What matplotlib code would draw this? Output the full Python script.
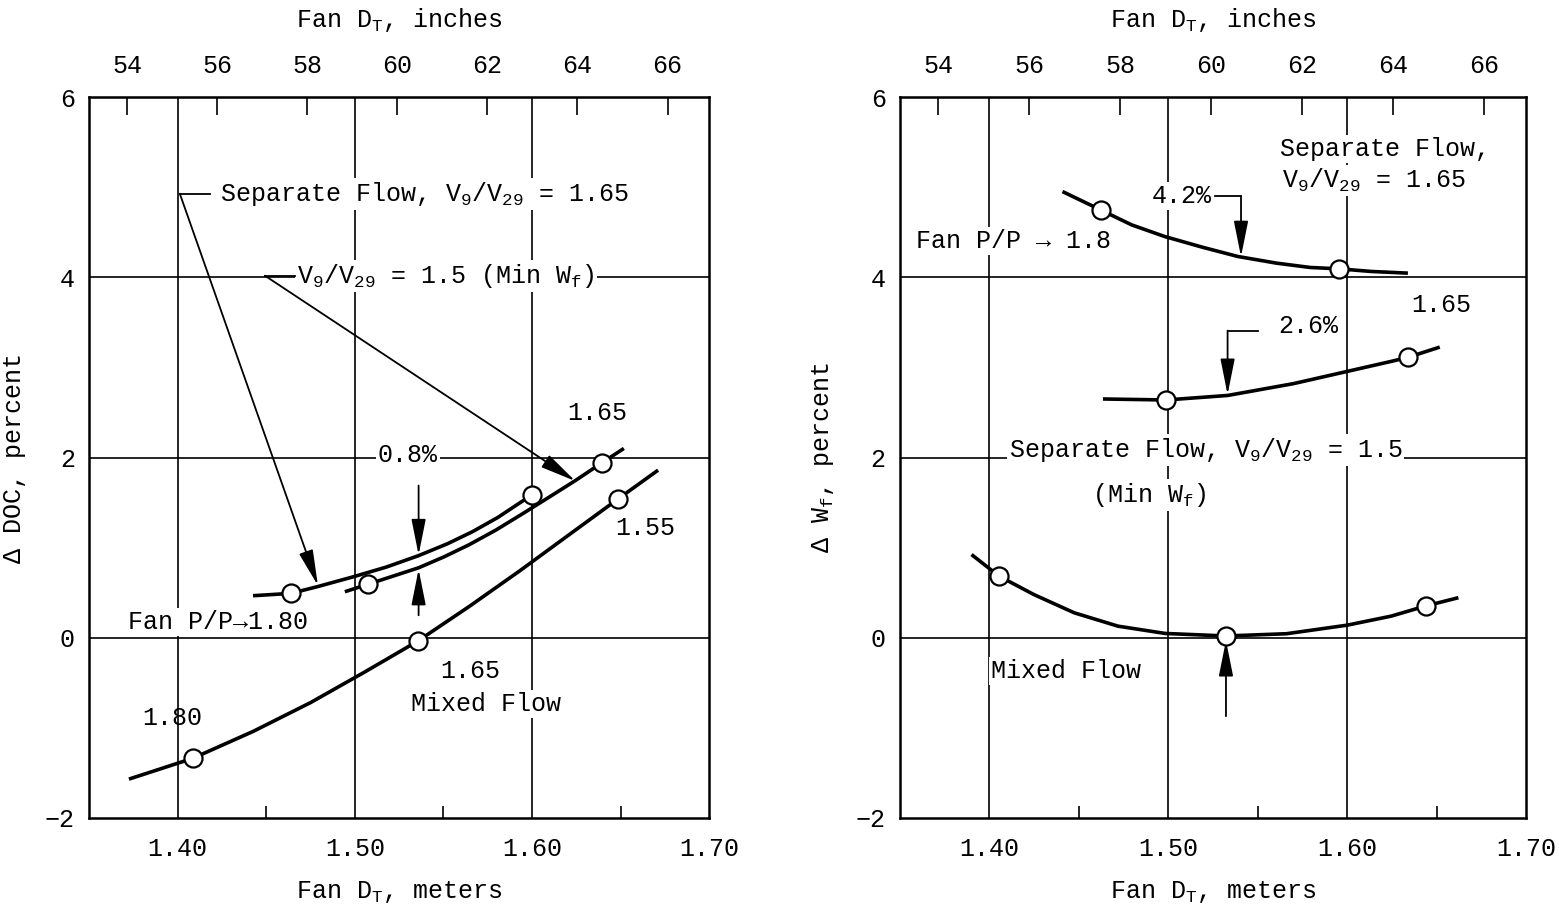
import numpy as np
import matplotlib
matplotlib.use('Agg')
import matplotlib.pyplot as plt

plt.rcParams['font.family'] = ['Liberation Mono', 'DejaVu Sans Mono', 'DejaVu Sans']
plt.rcParams['mathtext.fontset'] = 'custom'
plt.rcParams['mathtext.rm'] = 'Liberation Mono'
plt.rcParams['mathtext.it'] = 'Liberation Mono'
plt.rcParams['font.size'] = 18

# ---- left panel: delta DOC, percent ----
doc_sep165_x = [1.4426, 1.4640, 1.4792, 1.4995, 1.5178, 1.5360, 1.5523, 1.5665, 1.5807, 1.6000]
doc_sep165_y = [0.467, 0.493, 0.569, 0.679, 0.785, 0.912, 1.044, 1.179, 1.336, 1.588]
doc_sep165_pts_x = [1.4640, 1.6000]
doc_sep165_pts_y = [0.493, 1.588]

doc_sep15_x = [1.4944, 1.5076, 1.5360, 1.5503, 1.5645, 1.5797, 1.5949, 1.6091, 1.6244, 1.6396, 1.6518]
doc_sep15_y = [0.511, 0.595, 0.777, 0.898, 1.033, 1.197, 1.380, 1.555, 1.745, 1.945, 2.102]
doc_sep15_pts_x = [1.5076, 1.6396]
doc_sep15_pts_y = [0.595, 1.945]

doc_mixed_x = [1.3726, 1.4085, 1.4426, 1.4751, 1.5056, 1.5356, 1.5645, 1.5929, 1.6213, 1.6487, 1.6711]
doc_mixed_y = [-1.569, -1.339, -1.040, -0.719, -0.380, -0.036, 0.347, 0.741, 1.150, 1.544, 1.861]
doc_mixed_pts_x = [1.4085, 1.5356, 1.6487]
doc_mixed_pts_y = [-1.339, -0.036, 1.544]

# ---- right panel: delta Wf, percent ----
wf_sep165_x = [1.4410, 1.4623, 1.4796, 1.4980, 1.5191, 1.5389, 1.5605, 1.5793, 1.5953, 1.6132, 1.6339]
wf_sep165_y = [4.954, 4.750, 4.584, 4.455, 4.336, 4.233, 4.159, 4.111, 4.096, 4.067, 4.048]
wf_sep165_pts_x = [1.4623, 1.5953]
wf_sep165_pts_y = [4.750, 4.096]

wf_sep15_x = [1.4636, 1.4988, 1.5332, 1.5699, 1.6000, 1.6245, 1.6339, 1.6517]
wf_sep15_y = [2.651, 2.640, 2.690, 2.821, 2.957, 3.068, 3.113, 3.227]
wf_sep15_pts_x = [1.4988, 1.6339]
wf_sep15_pts_y = [2.640, 3.113]

wf_mixed_x = [1.3902, 1.4056, 1.4250, 1.4476, 1.4720, 1.4984, 1.5323, 1.5661, 1.6000, 1.6245, 1.6442, 1.6621]
wf_mixed_y = [0.924, 0.684, 0.480, 0.277, 0.129, 0.048, 0.020, 0.045, 0.140, 0.240, 0.355, 0.445]
wf_mixed_pts_x = [1.4056, 1.5323, 1.6442]
wf_mixed_pts_y = [0.684, 0.020, 0.355]

x_ticks = [1.40, 1.50, 1.60, 1.70]
x_minor = [1.45, 1.55, 1.65]
y_ticks = [-2, 0, 2, 4, 6]
inch_ticks = [54, 56, 58, 60, 62, 64, 66]

WHITE = dict(facecolor='white', edgecolor='none', pad=1.5)


def m2in(x):
    return np.asarray(x) / 0.0254


def in2m(x):
    return np.asarray(x) * 0.0254


def setup(ax, ylabel):
    ax.set_xlim(1.35, 1.70)
    ax.set_ylim(-2, 6)
    ax.set_xticks(x_ticks)
    ax.set_xticklabels(['%.2f' % v for v in x_ticks])
    ax.set_xticks(x_minor, minor=True)
    ax.set_yticks(y_ticks)
    ax.tick_params(axis='x', which='major', length=0, pad=14)
    ax.tick_params(axis='x', which='minor', direction='in', length=9, width=1.2)
    ax.tick_params(axis='y', length=0, pad=10)
    for v in x_ticks[:-1]:
        ax.axvline(v, color='black', lw=1.2, zorder=1)
    for v in y_ticks[1:-1]:
        ax.axhline(v, color='black', lw=1.2, zorder=1)
    for s in ax.spines.values():
        s.set_linewidth(1.8)
    ax.set_xlabel('Fan D$_T$, meters', labelpad=13)
    ax.set_ylabel(ylabel, labelpad=14)
    sec = ax.secondary_xaxis('top', functions=(m2in, in2m))
    sec.set_xticks(inch_ticks)
    sec.tick_params(direction='in', length=13, width=1.2, pad=14)
    sec.set_xlabel('Fan D$_T$, inches', labelpad=19)


def curve(ax, x, y, px, py):
    ax.plot(x, y, color='black', lw=2.6, zorder=4, solid_capstyle='butt',
            solid_joinstyle='round')
    ax.plot(px, py, 'o', ms=13, mfc='white', mec='black', mew=1.6, zorder=5)


def arrow(ax, tail, tip):
    ax.annotate('', xy=tip, xytext=tail, zorder=4,
                arrowprops=dict(arrowstyle='-|>,head_length=1.1,head_width=0.22',
                                mutation_scale=20, lw=1.3, color='black',
                                shrinkA=0, shrinkB=0))


fig = plt.figure(figsize=(15.59, 9.18), dpi=100)
ax1 = fig.add_axes([0.057, 0.109, 0.398, 0.785])
ax2 = fig.add_axes([0.577, 0.109, 0.402, 0.785])

# left panel
setup(ax1, '\u0394 DOC, percent')
curve(ax1, doc_sep165_x, doc_sep165_y, doc_sep165_pts_x, doc_sep165_pts_y)
curve(ax1, doc_sep15_x, doc_sep15_y, doc_sep15_pts_x, doc_sep15_pts_y)
curve(ax1, doc_mixed_x, doc_mixed_y, doc_mixed_pts_x, doc_mixed_pts_y)

ax1.text(1.4239, 4.93, 'Separate Flow, V$_9$/V$_{29}$ = 1.65', ha='left', va='center',
         bbox=WHITE, zorder=3)
ax1.plot([1.4013, 1.4182], [4.93, 4.93], color='black', lw=1.3, zorder=4)
arrow(ax1, (1.4013, 4.93), (1.4792, 0.58))

ax1.text(1.4673, 4.02, 'V$_9$/V$_{29}$ = 1.5 (Min W$_f$)', ha='left', va='center',
         bbox=WHITE, zorder=3)
ax1.plot([1.4493, 1.4662], [4.02, 4.02], color='black', lw=1.3, zorder=4)
arrow(ax1, (1.4493, 4.02), (1.6244, 1.74))

ax1.text(1.5299, 2.03, '0.8%', ha='center', va='center', bbox=WHITE, zorder=3)
arrow(ax1, (1.536, 1.69), (1.536, 0.92))
arrow(ax1, (1.536, 0.25), (1.536, 0.76))

ax1.text(1.637, 2.49, '1.65', ha='center', va='center')
ax1.text(1.6636, 1.22, '1.55', ha='center', va='center')
ax1.text(1.372, 0.18, 'Fan P/P\u21921.80', ha='left', va='center', bbox=WHITE, zorder=3)
ax1.text(1.5649, -0.37, '1.65', ha='center', va='center')
ax1.text(1.5739, -0.73, 'Mixed Flow', ha='center', va='center', bbox=WHITE, zorder=3)
ax1.text(1.3968, -0.89, '1.80', ha='center', va='center')

# right panel
setup(ax2, '\u0394 W$_f$, percent')
curve(ax2, wf_sep165_x, wf_sep165_y, wf_sep165_pts_x, wf_sep165_pts_y)
curve(ax2, wf_sep15_x, wf_sep15_y, wf_sep15_pts_x, wf_sep15_pts_y)
curve(ax2, wf_mixed_x, wf_mixed_y, wf_mixed_pts_x, wf_mixed_pts_y)

ax2.text(1.5626, 5.43, 'Separate Flow,', ha='left', va='center', bbox=WHITE, zorder=3)
ax2.text(1.5638, 5.08, 'V$_9$/V$_{29}$ = 1.65', ha='left', va='center', bbox=WHITE, zorder=3)

ax2.text(1.5078, 4.90, '4.2%', ha='center', va='center', bbox=WHITE, zorder=3)
ax2.plot([1.526, 1.5407], [4.90, 4.90], color='black', lw=1.3, zorder=4)
arrow(ax2, (1.5407, 4.90), (1.5407, 4.23))

ax2.text(1.359, 4.40, 'Fan P/P \u2192 1.8', ha='left', va='center', bbox=WHITE, zorder=3)
ax2.text(1.6523, 3.69, '1.65', ha='center', va='center')

ax2.text(1.5784, 3.46, '2.6%', ha='center', va='center', bbox=WHITE, zorder=3)
ax2.plot([1.5332, 1.5500], [3.41, 3.41], color='black', lw=1.3, zorder=4)
arrow(ax2, (1.5332, 3.41), (1.5332, 2.70))

ax2.text(1.4109, 2.08, 'Separate Flow, V$_9$/V$_{29}$ = 1.5', ha='left', va='center',
         bbox=WHITE, zorder=3)
ax2.text(1.4577, 1.58, '(Min W$_f$)', ha='left', va='center', bbox=WHITE, zorder=3)
ax2.text(1.4013, -0.37, 'Mixed Flow', ha='left', va='center', bbox=WHITE, zorder=3)
arrow(ax2, (1.5323, -0.87), (1.5323, -0.03))

fig.savefig('out.png', dpi=100)
